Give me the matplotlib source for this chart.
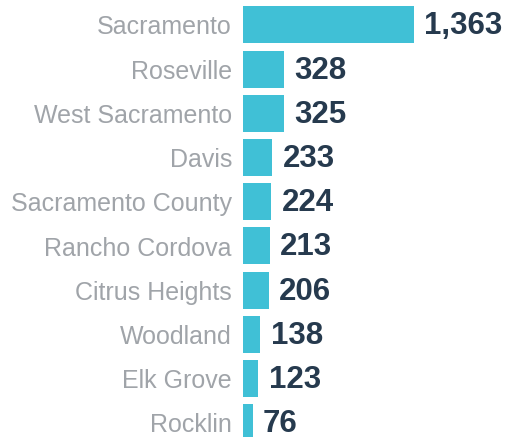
import matplotlib
matplotlib.use("Agg")
import matplotlib.pyplot as plt

cities = ["Sacramento", "Roseville", "West Sacramento", "Davis", "Sacramento County",
          "Rancho Cordova", "Citrus Heights", "Woodland", "Elk Grove", "Rocklin"]
values = [1363, 328, 325, 233, 224, 213, 206, 138, 123, 76]

W, H, DPI = 514, 437, 100
fig = plt.figure(figsize=(W / DPI, H / DPI), dpi=DPI)
left_px = 243
ax = fig.add_axes([left_px / W, 0, (W - left_px) / W, 1])

px_per_unit = 171 / 1363
row_px = 44.2
first_px = 25
ax.set_xlim(0, (W - left_px) / px_per_unit)
ax.set_ylim((H - first_px) / row_px, -first_px / row_px)

pos = list(range(len(cities)))
ax.barh(pos, values, height=37 / row_px, color="#40c0d6")

for p, v in zip(pos, values):
    ax.annotate(f"{v:,}", xy=(v, p), xytext=(7.5, -1), textcoords="offset points",
                ha="left", va="center", fontsize=22.5, fontweight="bold",
                family="Liberation Sans", color="#263a4e")

ax.set_yticks(pos)
ax.set_yticklabels(cities, fontsize=18, color="#a0a4a9", family="Liberation Sans")
ax.tick_params(axis="y", length=0, pad=8)
ax.set_xticks([])
for s in ax.spines.values():
    s.set_visible(False)

fig.savefig("out.png", dpi=DPI)
